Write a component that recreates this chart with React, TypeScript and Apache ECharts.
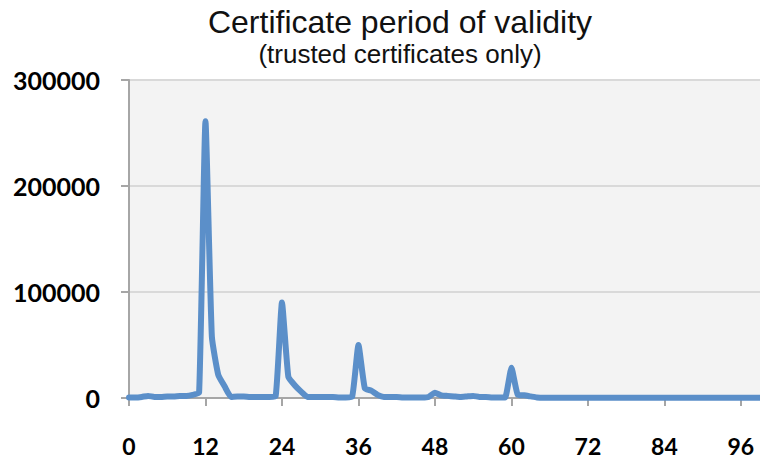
import React, { useEffect, useRef } from "react";
import * as echarts from "echarts";

const months: number[] = Array.from({ length: 100 }, (_, i) => i);
const counts: number[] = [
  500, 500, 1000, 2000, 1000, 1000, 1500, 1500, 2000, 2000,
  3000, 5000, 261000, 58000, 22000, 11000, 1000, 1500, 1500, 1000,
  1000, 1000, 1000, 1500, 90000, 20000, 12000, 6000, 1000, 1000,
  1000, 1000, 1000, 500, 500, 1000, 50000, 9000, 7000, 3000,
  1000, 1000, 1000, 500, 500, 500, 500, 1000, 5000, 2500,
  2000, 1500, 1000, 1500, 2000, 1000, 1000, 500, 500, 500,
  28500, 3000, 2500, 1500, 500, 200, 200, 200, 200, 200,
  200, 200, 200, 200, 200, 200, 200, 200, 200, 200,
  200, 200, 200, 200, 200, 200, 200, 200, 200, 200,
  200, 200, 200, 200, 200, 200, 200, 200, 200, 200,
];
const xTicks: number[] = [0, 12, 24, 36, 48, 60, 72, 84, 96];
const titleText = "Certificate period of validity";
const subtitleText = "(trusted certificates only)";

export default function App() {
  const ref = useRef<HTMLDivElement>(null);
  useEffect(() => {
    if (!ref.current) return;
    const chart = echarts.init(ref.current, undefined, { renderer: "svg" });
    const data = months.map((m, i) => [m, counts[i]]);
    chart.setOption({
      animation: false,
      backgroundColor: "#ffffff",
      graphic: [
        {
          type: "text",
          x: 400,
          y: 22,
          style: {
            text: titleText,
            fontFamily: "Liberation Sans",
            fontSize: 32,
            fill: "#111",
            align: "center",
            verticalAlign: "middle",
          },
        },
        {
          type: "text",
          x: 400,
          y: 54,
          style: {
            text: subtitleText,
            fontFamily: "Liberation Sans",
            fontSize: 26,
            fill: "#111",
            align: "center",
            verticalAlign: "middle",
          },
        },
      ],
      grid: {
        left: 129,
        right: 0,
        top: 80,
        bottom: 62,
        show: true,
        backgroundColor: "#f3f3f3",
        borderWidth: 0,
      },
      xAxis: {
        type: "value",
        min: 0,
        max: 99,
        interval: 12,
        axisLine: { show: true, lineStyle: { color: "#a6a6a6", width: 2 } },
        axisTick: {
          show: true,
          length: 8,
          customValues: xTicks,
          lineStyle: { color: "#a6a6a6", width: 2 },
        },
        axisLabel: {
          customValues: xTicks,
          margin: 36,
          fontFamily: "Lato",
          fontWeight: "bold",
          fontSize: 23,
          color: "#000",
        },
        splitLine: { show: false },
      },
      yAxis: {
        type: "value",
        min: 0,
        max: 300000,
        interval: 100000,
        axisLine: { show: true, lineStyle: { color: "#a6a6a6", width: 2 } },
        axisTick: { show: true, length: 8, lineStyle: { color: "#a6a6a6", width: 2 } },
        axisLabel: {
          margin: 29,
          fontFamily: "Lato",
          fontWeight: "bold",
          fontSize: 25,
          color: "#000",
          formatter: (v: number) => String(v),
        },
        splitLine: { show: true, lineStyle: { color: "#d9d9d9", width: 2 } },
      },
      series: [
        {
          type: "line",
          data,
          showSymbol: false,
          symbol: "none",
          smooth: 0.15,
          lineStyle: { color: "#5b8fc9", width: 6, join: "round", cap: "round" },
          clip: false,
        },
      ],
    });
    return () => chart.dispose();
  }, []);
  return <div ref={ref} style={{ width: 760, height: 460, position: "absolute", left: 0, top: 0 }} />;
}
